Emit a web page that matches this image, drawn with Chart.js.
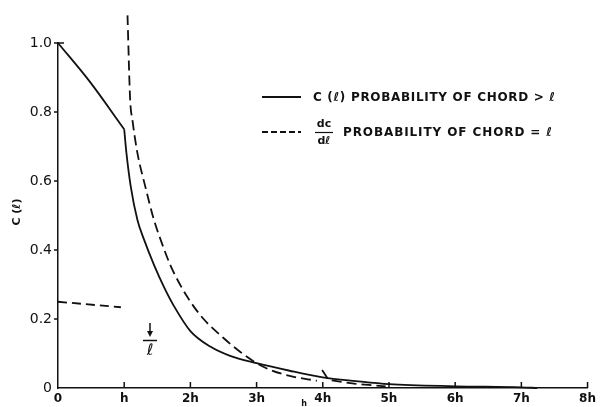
<!DOCTYPE html>
<html>
<head>
<meta charset="utf-8">
<script src="https://cdn.jsdelivr.net/npm/chart.js"></script>
<style>
  html, body { margin: 0; padding: 0; background: #fff; }
</style>
</head>
<body>
<canvas id="grafico" width="600" height="407"></canvas>
<script>
// valores (x em unidades de h)
const cX1 = [0, 0.48, 1.0];
const cY1 = [1.0, 0.888, 0.75];

const cX2 = [1.0, 1.034, 1.1, 1.2, 1.3, 1.45, 1.6, 1.75, 2.0, 2.3, 2.6, 3.0, 3.5, 4.0, 4.5, 5.0, 6.0, 7.0, 7.24];
const cY2 = [0.75, 0.681, 0.583, 0.487, 0.43, 0.357, 0.293, 0.238, 0.165, 0.12, 0.093, 0.072, 0.05, 0.031, 0.02, 0.011, 0.005, 0.002, 0];

const dX = [1.05, 1.09, 1.124, 1.2, 1.32, 1.45, 1.55, 1.7, 1.95, 2.2, 2.5, 2.75, 3.0, 3.2, 3.5, 3.91];
const dY = [1.08, 0.835, 0.777, 0.681, 0.583, 0.487, 0.43, 0.355, 0.265, 0.2, 0.145, 0.105, 0.072, 0.053, 0.035, 0.021];

const lowX = [0, 0.95];
const lowY = [0.25, 0.234];

const tailX = [3.99, 4.09, 4.5, 4.95];
const tailY = [0.052, 0.023, 0.012, 0.005];

const xTicks = [0, 1, 2, 3, 4, 5, 6, 7, 8];
const xTickLabels = ['0', 'h', '2h', '3h', '4h', '5h', '6h', '7h', '8h'];
const yTicks = [0, 0.2, 0.4, 0.6, 0.8, 1.0];
const yTickLabels = ['0', '0.2', '0.4', '0.6', '0.8', '1.0'];

const INK = '#111';

function pts(xs, ys) {
  return xs.map((x, i) => ({ x: x, y: ys[i] }));
}

function linha(xs, ys, dash, smooth) {
  return {
    data: pts(xs, ys),
    borderColor: INK,
    borderWidth: 1.8,
    borderDash: dash,
    pointRadius: 0,
    fill: false,
    cubicInterpolationMode: smooth ? 'monotone' : 'default',
    tension: 0,
    clip: false
  };
}

// escreve o texto esticado ate a largura alvo
function textoLargo(ctx, txt, x, y, largura) {
  ctx.letterSpacing = '0px';
  const w = ctx.measureText(txt).width;
  const esp = (largura - w) / (txt.length - 1);
  ctx.letterSpacing = esp + 'px';
  ctx.fillText(txt, x, y);
  ctx.letterSpacing = '0px';
}

// textos e marcas extras (legenda, seta, titulo do eixo)
const extras = {
  id: 'extras',
  afterDraw(chart) {
    const ctx = chart.ctx;
    const xs = chart.scales.x, ys = chart.scales.y;
    const area = chart.chartArea;
    ctx.save();
    ctx.strokeStyle = INK;
    ctx.fillStyle = INK;
    ctx.lineWidth = 1.5;

    // ticks do eixo x (para dentro)
    xTicks.forEach(v => {
      if (v === 0) return;
      const px = xs.getPixelForValue(v);
      ctx.beginPath();
      ctx.moveTo(px, area.bottom);
      ctx.lineTo(px, area.bottom - 6);
      ctx.stroke();
    });
    // ticks do eixo y (para fora)
    yTicks.forEach(v => {
      if (v === 0) return;
      const py = ys.getPixelForValue(v);
      ctx.beginPath();
      ctx.moveTo(area.left - 4, py);
      ctx.lineTo(area.left + (v === 1 ? 6 : 0), py);
      ctx.stroke();
    });

    // titulo do eixo y
    ctx.save();
    ctx.translate(17, 212);
    ctx.rotate(-Math.PI / 2);
    ctx.font = 'bold 11px "DejaVu Sans"';
    ctx.textAlign = 'center';
    ctx.textBaseline = 'middle';
    ctx.fillText('C (ℓ)', 0, 0);
    ctx.restore();

    // legenda
    ctx.lineWidth = 1.8;
    ctx.beginPath();
    ctx.moveTo(262, 97);
    ctx.lineTo(301, 97);
    ctx.stroke();
    ctx.setLineDash([6, 3]);
    ctx.beginPath();
    ctx.moveTo(262, 132);
    ctx.lineTo(301, 132);
    ctx.stroke();
    ctx.setLineDash([]);

    ctx.font = 'bold 12px "DejaVu Sans"';
    ctx.textBaseline = 'middle';
    ctx.textAlign = 'left';
    textoLargo(ctx, 'C (ℓ) PROBABILITY OF CHORD > ℓ', 313, 98, 242);
    textoLargo(ctx, 'PROBABILITY OF CHORD = ℓ', 343, 133, 209);

    ctx.font = 'bold 11px "DejaVu Sans"';
    ctx.textAlign = 'center';
    ctx.fillText('dc', 324, 124);
    ctx.fillText('dℓ', 324, 141);
    ctx.lineWidth = 1.2;
    ctx.beginPath();
    ctx.moveTo(315, 132.5);
    ctx.lineTo(333, 132.5);
    ctx.stroke();

    // seta apontando l
    ctx.lineWidth = 1.5;
    ctx.beginPath();
    ctx.moveTo(150, 323);
    ctx.lineTo(150, 335);
    ctx.stroke();
    ctx.beginPath();
    ctx.moveTo(147, 331);
    ctx.lineTo(153, 331);
    ctx.lineTo(150, 337);
    ctx.closePath();
    ctx.fill();
    ctx.beginPath();
    ctx.moveTo(143, 340.5);
    ctx.lineTo(157, 340.5);
    ctx.stroke();
    ctx.font = 'italic 16px "DejaVu Sans"';
    ctx.fillText('ℓ', 150, 351);

    // "h" solto abaixo do eixo
    ctx.font = 'bold 8px "DejaVu Sans"';
    ctx.fillText('h', 304, 404);
    ctx.restore();
  }
};

new Chart(document.getElementById('grafico'), {
  type: 'line',
  data: {
    datasets: [
      linha(cX1, cY1, [], true),
      linha(cX2, cY2, [], true),
      linha(dX, dY, [10, 5], true),
      linha(lowX, lowY, [9, 5], false),
      linha(tailX, tailY, [10, 5], false)
    ]
  },
  options: {
    responsive: false,
    animation: false,
    devicePixelRatio: 1,
    layout: { padding: { top: 43, right: 6, left: 0, bottom: 0 } },
    plugins: {
      legend: { display: false },
      tooltip: { enabled: false }
    },
    scales: {
      x: {
        type: 'linear',
        min: 0,
        max: 8,
        afterBuildTicks: s => { s.ticks = xTicks.map(v => ({ value: v })); },
        afterFit: s => { s.height = 19; },
        ticks: {
          color: INK,
          padding: 4,
          maxRotation: 0,
          font: { family: 'DejaVu Sans', size: 12, weight: 'bold' },
          callback: v => xTickLabels[xTicks.indexOf(v)]
        },
        grid: { display: false, drawTicks: false },
        border: { color: INK, width: 1.5 }
      },
      y: {
        type: 'linear',
        min: 0,
        max: 1,
        afterBuildTicks: s => { s.ticks = yTicks.map(v => ({ value: v })); },
        afterFit: s => { s.width = 58; },
        ticks: {
          color: INK,
          padding: 6,
          font: { family: 'DejaVu Sans', size: 14 },
          callback: v => yTickLabels[yTicks.indexOf(v)]
        },
        grid: { display: false, drawTicks: false },
        border: { color: INK, width: 1.5 }
      }
    }
  },
  plugins: [extras]
});
</script>
</body>
</html>
